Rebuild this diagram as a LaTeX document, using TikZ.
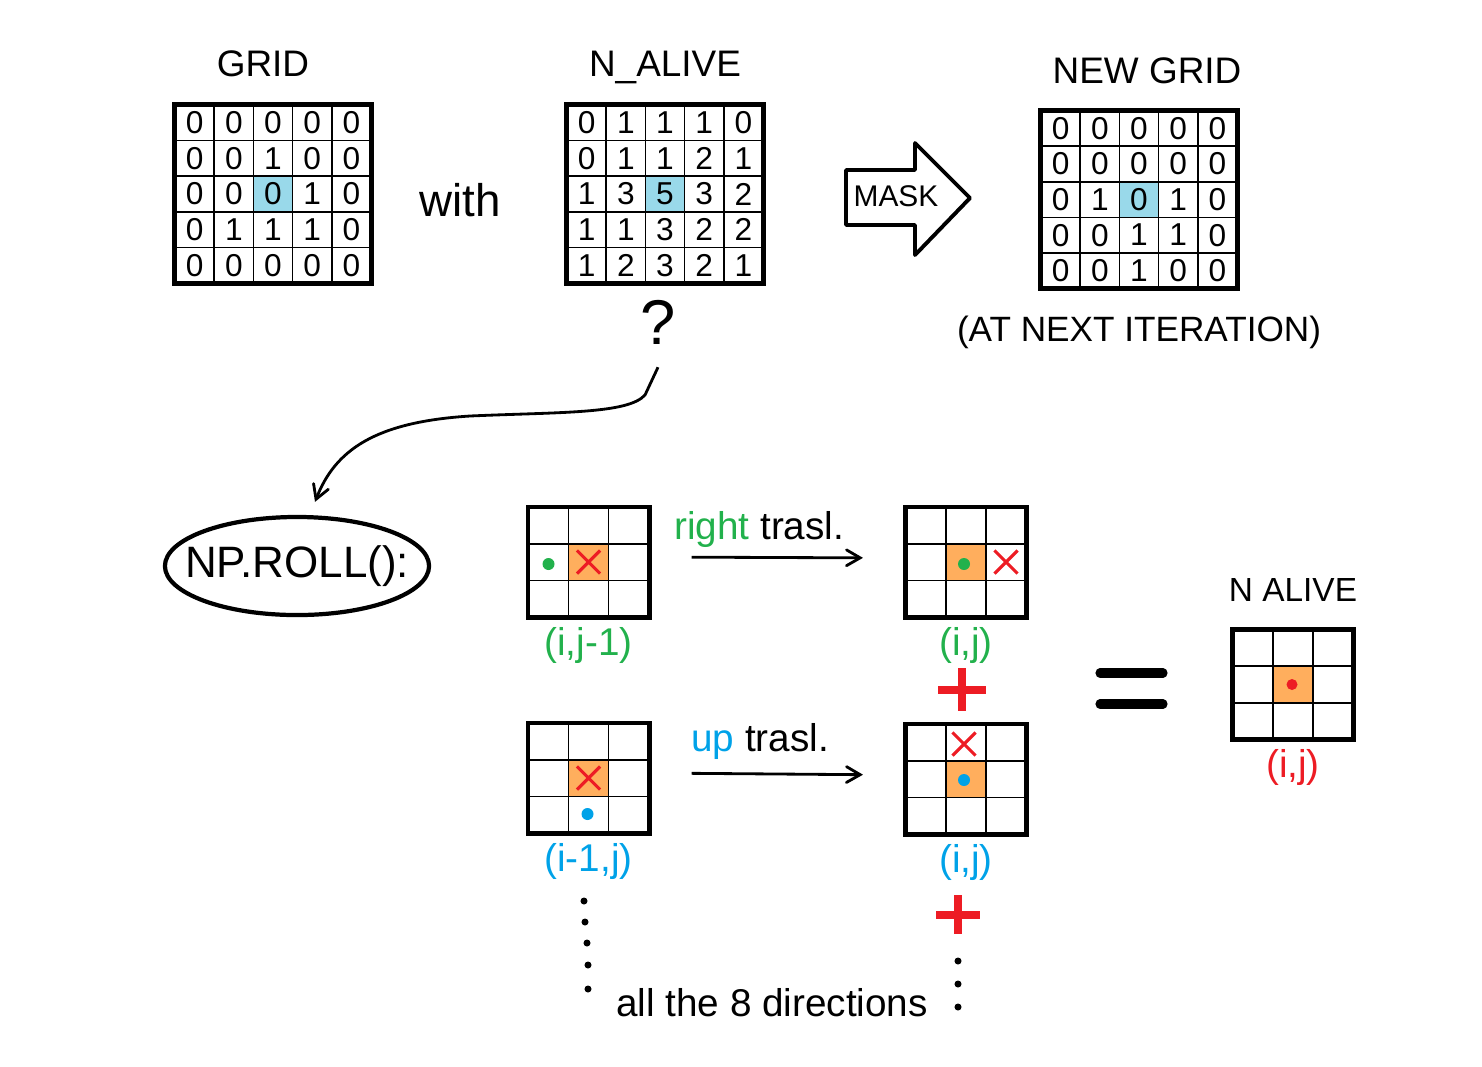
\documentclass[tikz,border=0pt]{standalone}
\usepackage{fontspec}
\setmainfont{Liberation Sans}
\usepackage{tikz}
\usetikzlibrary{arrows}
\usetikzlibrary{shapes}
\usetikzlibrary{positioning}

\definecolor{cellblue}{RGB}{153,217,234}
\definecolor{cellorange}{RGB}{255,174,93}
\definecolor{dotgreen}{RGB}{34,177,76}
\definecolor{dotred}{RGB}{237,28,36}
\definecolor{dotblue}{RGB}{0,162,232}

\tikzset{
  gridline/.style={line width=0.45pt},
  bigframe/.style={draw, line width=1.4pt, minimum width=1.96cm, minimum height=1.78cm, inner sep=0pt},
  smallframe/.style={draw, line width=1.4pt, minimum width=1.21cm, minimum height=1.1cm, inner sep=0pt},
  digit/.style={font=\fontsize{9}{11}\selectfont},
  title/.style={font=\fontsize{10.5}{13}\selectfont},
  note/.style={font=\fontsize{10}{12}\selectfont},
  lbl/.style={font=\fontsize{11}{13}\selectfont, inner sep=1pt},
  rollbox/.style={draw, ellipse, line width=1.2pt, minimum width=2.64cm, minimum height=0.98cm},
  xmark/.style={cross out, draw=dotred, line width=0.9pt, minimum size=0.2cm, inner sep=0pt},
  spot/.style={circle, fill=#1, inner sep=0pt, minimum size=0.12cm},
  trasl/.style={->, line width=0.8pt, shorten <=0.4cm, shorten >=0.4cm},
  plus/.style={dotred, line width=2.4pt}
}

% 5x5 grid of numbers: name, centre, rows
\newcommand{\numgrid}[3]{%
  \begin{scope}[shift={(#2)}]
    \fill[cellblue] (-19.6,-17.8) rectangle (19.6,17.8);
    \foreach \k in {-1.5,-0.5,0.5,1.5} {
      \draw[gridline] (\k*39.2,-89) -- (\k*39.2,89);
      \draw[gridline] (-98,\k*35.6) -- (98,\k*35.6);
    }
    \foreach \row [count=\rw] in {#3} {
      \foreach \v [count=\col] in \row
        \node[digit] (#1-\rw-\col) at (\col*39.2-117.6,\rw*35.6-106.8) {\v};
    }
    \node[bigframe] (#1) at (0,0) {};
  \end{scope}}

% 3x3 neighbourhood: name, centre, marks
\newcommand{\stencil}[3]{%
  \begin{scope}[shift={(#2)}]
    \fill[cellorange] (-20,-18.3) rectangle (20,18.3);
    \foreach \k in {-0.5,0.5} {
      \draw[gridline] (\k*40,-55) -- (\k*40,55);
      \draw[gridline] (-60.5,\k*36.6) -- (60.5,\k*36.6);
    }
    \node[smallframe] (#1) at (0,0) {};
    #3
  \end{scope}}

\begin{document}
\begin{tikzpicture}[x=0.01cm, y=-0.01cm, >=angle 60, thick]
  \useasboundingbox (0,0) rectangle (1482,1066);

  % Grids at the top
  \numgrid{grid}{273,194}{{0,0,0,0,0},{0,0,1,0,0},{0,0,0,1,0},{0,1,1,1,0},{0,0,0,0,0}}
  \numgrid{alive}{665,194}{{0,1,1,1,0},{0,1,1,2,1},{1,3,5,3,2},{1,1,3,2,2},{1,2,3,2,1}}
  \numgrid{newgrid}{1139,199.5}{{0,0,0,0,0},{0,0,0,0,0},{0,1,0,1,0},{0,0,1,1,0},{0,0,1,0,0}}

  \node[title, above=0.13cm of grid, xshift=-0.1cm] (gridtitle) {GRID};
  \node[title, above=0.06cm of alive] (alivetitle) {N\_ALIVE};
  \node[title, above=0.11cm of newgrid, xshift=0.08cm] (newtitle) {NEW GRID};
  \node[note, below=0.12cm of newgrid] (nextit) {(AT NEXT ITERATION)};
  \node[font=\fontsize{13}{15}\selectfont] (with) at (460,200) {with};

  % Mask arrow
  \draw[line width=1.1pt, line join=round] (846,170) -- (915,170) -- (915,143) -- (970,198)
    -- (915,255) -- (915,225) -- (846,225) -- cycle;
  \node[font=\fontsize{8.5}{10}\selectfont] (mask) at (896,196) {MASK};

  % Question and np.roll
  \node[font=\fontsize{18}{22}\selectfont] (qmark) at (658,322) {?};
  \node[rollbox] (roll) at (297,566) {};
  \node[font=\fontsize{12.5}{15}\selectfont] (rolltext) at (roll.center) {NP.ROLL():};
  \draw[->, line width=0.8pt] ([yshift=-0.1cm]qmark.south) -- (645,395)
    .. controls (628,414) and (560,412) .. (470,416)
    .. controls (375,422) and (335,450) .. ([xshift=0.18cm, yshift=0.13cm]roll.north);

  % Neighbourhoods
  \stencil{gA}{588.5,562}{\node[spot=dotgreen] (gAdot) at (-40,2) {}; \node[xmark] (gAx) at (0,0) {};}
  \stencil{gB}{966,562}{\node[spot=dotgreen] (gBdot) at (-2,2) {}; \node[xmark] (gBx) at (40,0) {};}
  \stencil{gC}{588.5,778}{\node[xmark] (gCx) at (0,0) {}; \node[spot=dotblue] (gCdot) at (-1,36) {};}
  \stencil{gD}{966,779}{\node[xmark] (gDx) at (-2,-35) {}; \node[spot=dotblue] (gDdot) at (-2,1) {};}
  \stencil{gE}{1293,684.5}{\node[spot=dotred, minimum size=0.11cm] (gEdot) at (-1,0) {};}

  \node[lbl, dotgreen, below=0.03cm of gA] (gAlbl) {(i,j-1)};
  \node[lbl, dotgreen, below=0.03cm of gB] (gBlbl) {(i,j)};
  \node[lbl, dotblue, below=0.03cm of gC] (gClbl) {(i-1,j)};
  \node[lbl, dotblue, below=0.03cm of gD] (gDlbl) {(i,j)};
  \node[lbl, dotred, below=0.03cm of gE] (gElbl) {(i,j)};
  \node[font=\fontsize{9.5}{12}\selectfont, above=0.12cm of gE] (alivesmall) {N ALIVE};

  % Translations
  \draw[trasl] ([yshift=0.05cm]gA.east) -- node[lbl, above=0.05cm, xshift=-0.18cm] (rightlbl)
    {\textcolor{dotgreen}{right} trasl.} ([yshift=0.04cm]gB.west);
  \draw[trasl] ([yshift=0.05cm]gC.east) -- node[lbl, above=0.1cm, xshift=-0.17cm] (uplbl)
    {\textcolor{dotblue}{up} trasl.} ([yshift=0.04cm]gD.west);

  % Sum and result
  \draw[plus] (938,690) -- (986,690) (962,668) -- (962,711);
  \draw[plus] (936,915) -- (980,915) (958,895) -- (958,934);
  \draw[line width=2.6pt, line cap=round] (1100,673) -- (1163,673) (1100,704) -- (1163,704);

  % Other directions
  \foreach \px/\py in {584/901, 585/922, 587/943, 588/965, 588/989, 958/961, 958/984, 958/1007}
    \fill (\px,\py) circle (1pt);
  \node[lbl] (alldirs) at (772,1003) {all the 8 directions};
\end{tikzpicture}
\end{document}
